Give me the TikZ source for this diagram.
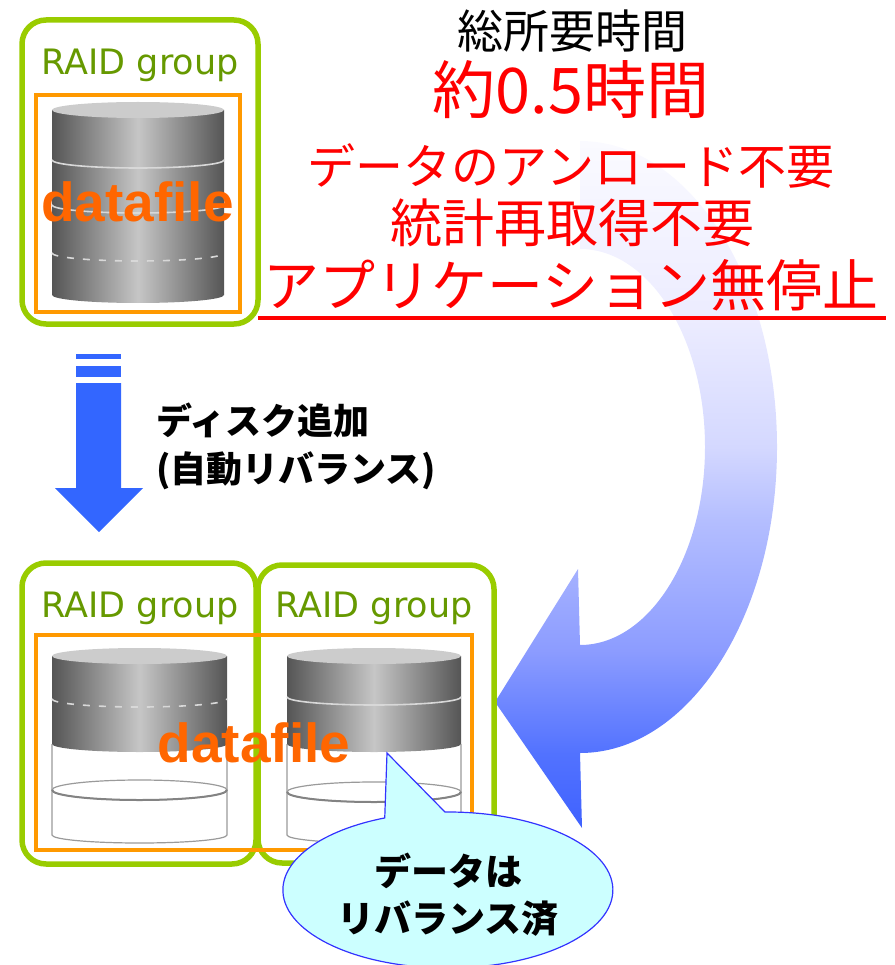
\documentclass[tikz,border=0pt]{standalone}
\usepackage{fontspec}
\setmainfont{Liberation Sans}
\newfontfamily\jpfont{Noto Sans CJK JP}
\newfontfamily\raidfont{DejaVu Sans}

\definecolor{raidgreen}{HTML}{99CC00}
\definecolor{raidtext}{HTML}{669900}
\definecolor{fileorange}{HTML}{FF9900}
\definecolor{filetext}{HTML}{FF6600}
\definecolor{arrowblue}{HTML}{3366FF}
\definecolor{cyldark}{HTML}{555555}
\definecolor{cyllight}{HTML}{C6C6C6}
\definecolor{cyltop}{HTML}{CCCCCC}
\definecolor{cylline}{HTML}{D8D8D8}
\definecolor{cylwire}{HTML}{9A9A9A}
\definecolor{bubblefill}{HTML}{CCFFFF}
\definecolor{bubbleline}{HTML}{3333FF}
\definecolor{alertred}{HTML}{FF0000}

% colour ramp of the return arrow (25bp = lower end, 75bp = upper end)
\definecolor{ramp1}{HTML}{3F62FF}
\definecolor{ramp2}{HTML}{5272FF}
\definecolor{ramp3}{HTML}{8C9CFF}
\definecolor{ramp4}{HTML}{B4BEFF}
\definecolor{ramp5}{HTML}{D4D8FF}
\definecolor{ramp6}{HTML}{ECECFF}
\definecolor{ramp7}{HTML}{FAFAFF}
\pgfdeclareverticalshading{returnramp}{100bp}{%
  color(0bp)=(ramp1); color(25bp)=(ramp1); color(30.4bp)=(ramp2);
  color(37.9bp)=(ramp3); color(47.4bp)=(ramp4); color(52.7bp)=(ramp5);
  color(62bp)=(ramp6); color(75bp)=(ramp7); color(100bp)=(ramp7)}

\tikzset{
  raidbox/.style={draw=raidgreen, line width=5.5, rounded corners=24},
  filebox/.style={draw=fileorange, line width=3.5},
  raidlabel/.style={text=raidtext, font=\raidfont\fontsize{35}{38}\selectfont, inner sep=0, anchor=base},
  filelabel/.style={text=filetext, font=\bfseries\fontsize{55}{58}\selectfont, inner sep=0, anchor=base},
  grayband/.style={left color=cyldark, right color=cyldark, middle color=cyllight},
  bandline/.style={draw=cylline, line width=1.6},
  wire/.style={draw=cylwire, line width=1.2},
  redtext/.style={text=alertred, inner sep=0},
  blacktext/.style={text=black, inner sep=0},
}

% gray (filled) part of a disk: left x, right x, top centre y, bottom centre y
\newcommand\diskband[4]{%
  \shade[grayband] (#1,#3) -- (#1,#4)
    arc[start angle=180, end angle=0, x radius={(#2-#1)/2}, y radius=8]
    -- (#2,#3) -- cycle;
  \fill[cyltop] ({(#1+#2)/2},#3) ellipse[x radius={(#2-#1)/2}, y radius=8];
}
% front edge of a ring around a disk
\newcommand\diskring[4][]{%
  \draw[bandline,#1] (#2,#4) arc[start angle=180, end angle=0, x radius={(#3-#2)/2}, y radius=8];
}
% empty (white) part of a disk: left x, right x, top y, ring y, bottom y
\newcommand\diskempty[5]{%
  \draw[wire] (#1,#3) -- (#1,#5)
    arc[start angle=180, end angle=0, x radius={(#2-#1)/2}, y radius=8]
    -- (#2,#3);
  \draw[wire] ({(#1+#2)/2},#4) ellipse[x radius={(#2-#1)/2}, y radius=10];
  \draw[wire, line width=2, draw=cylwire!85!black] (#1,#4)
    arc[start angle=180, end angle=0, x radius={(#2-#1)/2}, y radius=10];
}

\begin{document}
\begin{tikzpicture}[x=1pt, y=-1pt]
\useasboundingbox (0,0) rectangle (894,965);

% sweeping return arrow
\shade[shading=returnramp]
  (580,141) arc[start angle=-90, end angle=90, x radius=197, y radius=306]
  -- (582,828) -- (495,702) -- (578,569) -- (580,645)
  arc[start angle=90, end angle=-90, x radius=125, y radius=198] -- cycle;

% ---- before: one RAID group
\draw[raidbox] (22,20) rectangle (258,324);
\node[raidlabel] (raidA) at (140,75) {RAID group};
\draw[filebox] (36,95) rectangle (240,312);
\diskband{52}{224}{110}{295}
\diskring{52}{224}{160}
\diskring{52}{224}{205}
\diskring[dash pattern=on 7 off 9]{52}{224}{253}
\node[filelabel] (fileA) at (137.5,222) {datafile};

% ---- summary text
\node[blacktext, font=\jpfont\fontsize{46}{48}\selectfont] (total) at (572,31) {総所要時間};
\node[redtext, font=\jpfont\fontsize{63}{66}\selectfont] (time) at (571,90) {約0.5時間};
\node[redtext, font=\jpfont\fontsize{48}{50}\selectfont] (unload) at (571,166) {データのアンロード不要};
\node[redtext, font=\jpfont\fontsize{52}{54}\selectfont] (stats) at (572,223) {統計再取得不要};
\node[redtext, font=\jpfont\fontsize{56}{58}\selectfont] (nostop) at (571,285) {アプリケーション無停止};
\draw[alertred, line width=4] (258,318) -- (886,318);

% ---- disk addition arrow
\fill[arrowblue] (76,354) rectangle (121,359);
\fill[arrowblue] (76,366) rectangle (121,377);
\fill[arrowblue] (76,383) -- (121,383) -- (121,488) -- (143,488) -- (99,532)
  -- (55,488) -- (76,488) -- cycle;
\node[blacktext, anchor=west, font=\jpfont\bfseries\fontsize{36}{38}\selectfont] (add) at (156,420) {ディスク追加};
\node[blacktext, anchor=west, font=\jpfont\bfseries\fontsize{36}{38}\selectfont] (auto) at (156,471) {(自動リバランス)};

% ---- after: two RAID groups
\draw[raidbox] (22,563) rectangle (256,864);
\draw[raidbox] (258,565) rectangle (494,863);
\node[raidlabel] (raidB) at (140,617) {RAID group};
\node[raidlabel] (raidC) at (374,617) {RAID group};
\draw[filebox] (36,635) rectangle (472,850);

\diskempty{52}{227}{744}{790}{835}
\diskband{52}{227}{656}{744}
\diskring[dash pattern=on 7 off 9]{52}{227}{699}

\diskempty{287}{461}{744}{792}{835}
\diskband{287}{461}{656}{744}
\diskring{287}{461}{697}

\node[filelabel] (fileB) at (254,762) {datafile};

% ---- callout
\filldraw[fill=bubblefill, draw=bubbleline, line width=1.2]
  (387,753) -- (445,812)
  arc[start angle=-91, end angle=247.5, x radius=165, y radius=78] -- cycle;
\node[blacktext, font=\jpfont\bfseries\fontsize{37}{39}\selectfont] (done1) at (448,871) {データは};
\node[blacktext, font=\jpfont\bfseries\fontsize{37}{39}\selectfont] (done2) at (448,919) {リバランス済};
\end{tikzpicture}
\end{document}
